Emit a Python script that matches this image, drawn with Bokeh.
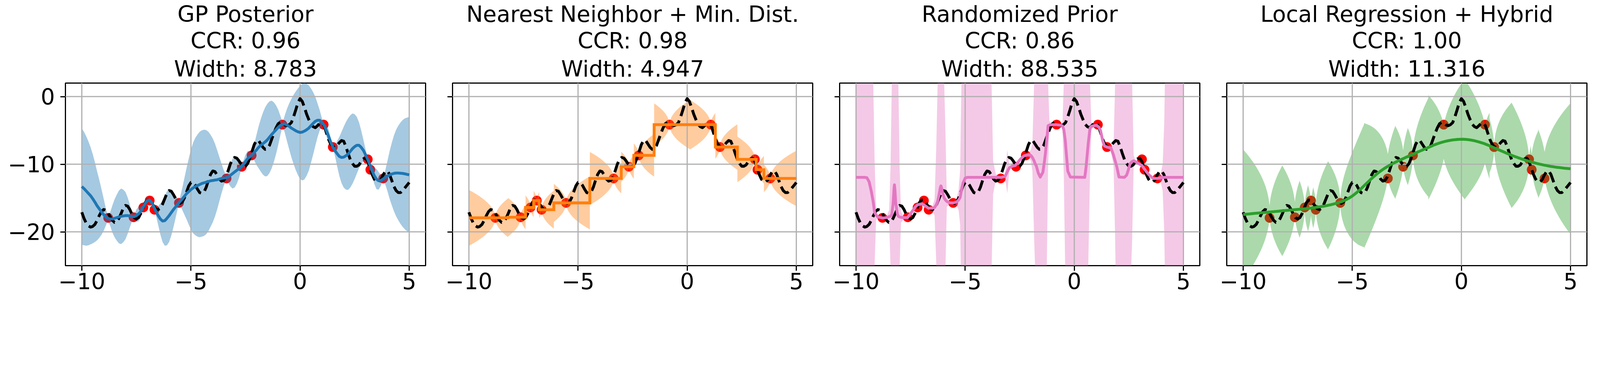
import numpy as np
from bokeh.plotting import figure
from bokeh.models import Range1d, FixedTicker, Title
from bokeh.layouts import row
from bokeh.embed import file_html
from bokeh.resources import INLINE

# ---------------- data ----------------
X_MIN, X_MAX = -10.0, 5.0
grid_x = np.round(np.linspace(X_MIN, X_MAX, 151), 2)   # sampling grid, step 0.1

# true function (black dashed), on grid_x
true_y = [
    -17.1, -18.0, -18.7, -19.1, -19.3, -19.2, -18.9, -18.3, -17.6, -17.0,
    -16.7, -16.8, -17.2, -17.8, -18.3, -18.6, -18.5, -18.0, -17.3, -16.5,
    -16.1, -16.2, -16.7, -17.4, -17.9, -18.1, -17.9, -17.3, -16.5, -15.7,
    -15.3, -15.3, -15.7, -16.2, -16.6, -16.7, -16.5, -15.9, -15.1, -14.3,
    -13.9, -14.0, -14.5, -15.1, -15.6, -15.8, -15.6, -15.0, -14.1, -13.2,
    -12.7, -12.7, -13.1, -13.7, -14.2, -14.3, -14.1, -13.4, -12.4, -11.5,
    -11.0, -11.1, -11.6, -12.2, -12.5, -12.4, -11.9, -11.0, -10.0, -9.3,
    -9.0, -9.1, -9.5, -10.0, -10.3, -10.3, -9.9, -9.1, -8.1, -7.1,
    -6.5, -6.5, -7.0, -7.5, -7.8, -7.7, -7.2, -6.3, -5.4, -4.6,
    -4.0, -3.8, -3.9, -4.2, -4.3, -4.15, -3.85, -3.0, -2.0, -0.9,
    -0.3, -0.7, -1.6, -2.6, -3.4, -4.1, -4.45, -4.6, -4.3, -3.95,
    -3.9, -4.3, -5.3, -6.3, -7.0, -7.4, -7.5, -7.2, -6.8, -6.5,
    -6.6, -7.4, -8.4, -9.3, -9.9, -10.3, -10.3, -10.1, -9.6, -9.2,
    -9.1, -9.6, -10.6, -11.5, -12.2, -12.6, -12.6, -12.3, -11.6, -11.1,
    -11.0, -11.5, -12.4, -13.3, -13.9, -14.2, -14.2, -13.9, -13.5, -13.1,
    -12.7]

# observations (red points)
obs_x = [-8.79, -7.63, -7.18, -6.89, -6.67, -5.55, -3.37, -2.67, -2.22,
         -0.81, 1.08, 1.50, 3.10, 3.22, 3.81]
obs_y = [-17.93, -17.84, -16.40, -15.37, -16.73, -15.72, -12.10, -10.37, -8.69,
         -4.15, -4.15, -7.46, -9.28, -10.81, -12.10]

# GP posterior mean and band half-width, on grid_x
gp_mean = [
    -13.3, -13.6, -13.95, -14.3, -14.65, -15.1, -15.6, -16.15, -16.6, -17.05,
    -17.45, -17.8, -18.0, -18.1, -18.1, -18.0, -17.9, -17.8, -17.7, -17.65,
    -17.6, -17.6, -17.65, -17.75, -17.75, -17.6, -17.35, -17.0, -16.4, -15.8,
    -15.35, -15.3, -15.7, -16.3, -17.0, -17.6, -18.1, -18.4, -18.35, -18.0,
    -17.6, -17.15, -16.7, -16.3, -15.9, -15.5, -15.15, -14.75, -14.35, -14.05,
    -13.75, -13.5, -13.3, -13.15, -13.0, -12.85, -12.75, -12.65, -12.55, -12.45,
    -12.4, -12.35, -12.3, -12.2, -12.1, -12.05, -12.0, -11.9, -11.65, -11.4,
    -11.15, -10.9, -10.65, -10.35, -10.0, -9.6, -9.15, -8.9, -8.65, -8.25,
    -7.9, -7.5, -7.2, -6.95, -6.7, -6.4, -6.0, -5.6, -5.25, -4.9,
    -4.55, -4.25, -4.08, -4.05, -4.2, -4.4, -4.65, -4.85, -5.05, -5.2,
    -5.3, -5.25, -5.1, -4.9, -4.65, -4.3, -3.95, -3.65, -3.5, -3.5,
    -3.8, -4.2, -5.0, -5.8, -6.7, -7.45, -8.0, -8.45, -8.85, -9.0,
    -8.95, -8.75, -8.5, -8.1, -7.7, -7.4, -7.2, -7.2, -7.5, -7.95,
    -8.6, -9.3, -10.1, -10.95, -11.7, -12.2, -12.45, -12.4, -12.2, -11.95,
    -11.75, -11.6, -11.45, -11.35, -11.3, -11.3, -11.33, -11.36, -11.42, -11.5,
    -11.57]
gp_halfwidth = [
    8.6, 8.4, 8.1, 7.7, 7.2, 6.6, 5.9, 5.1, 4.3, 3.4,
    2.4, 1.3, 0.3, 1.0, 2.0, 2.8, 3.4, 3.9, 4.1, 3.9,
    3.5, 2.7, 1.7, 0.7, 0.3, 0.9, 1.1, 0.8, 0.2, 0.5,
    0.4, 0.15, 0.35, 0.15, 0.6, 1.4, 2.3, 3.1, 3.7, 4.0,
    3.9, 3.4, 2.6, 1.6, 0.6, 0.6, 1.6, 2.7, 3.8, 4.9,
    5.9, 6.7, 7.2, 7.55, 7.8, 7.85, 7.85, 7.7, 7.35, 6.8,
    6.2, 5.4, 4.4, 3.3, 2.2, 1.2, 0.4, 0.8, 1.6, 2.2,
    2.3, 2.0, 1.4, 0.5, 0.5, 1.0, 1.1, 0.7, 0.2, 1.2,
    2.2, 3.1, 3.9, 4.6, 5.1, 5.35, 5.3, 5.0, 4.4, 3.6,
    2.6, 1.4, 0.2, 1.3, 2.4, 3.4, 4.3, 5.1, 5.8, 6.4,
    6.9, 7.15, 7.15, 6.8, 6.3, 5.5, 4.6, 3.6, 2.5, 1.5,
    0.6, 0.2, 0.8, 1.0, 0.6, 0.1, 0.8, 1.9, 2.9, 3.8,
    4.5, 5.0, 5.3, 5.35, 5.2, 4.8, 4.2, 3.4, 2.5, 1.6,
    0.8, 0.1, 0.2, 0.7, 1.2, 1.5, 1.3, 0.8, 0.15, 1.0,
    2.2, 3.5, 4.6, 5.6, 6.4, 7.0, 7.5, 7.9, 8.2, 8.4,
    8.55]

# nearest neighbour: band half-width = nn_scale * sqrt(distance to nearest point)
nn_scale = 3.75

# randomized prior: mean and half-width at irregular x
pink_x = [
    -10.0, -9.6, -9.5, -9.4, -9.3, -9.21, -9.15, -9.08, -9.0, -8.79,
    -8.6, -8.48, -8.42, -8.36, -8.3, -8.26, -8.24, -8.22, -8.18, -8.1,
    -8.06, -8.0, -7.94, -7.8, -7.64, -7.5, -7.28, -7.18, -6.98, -6.85,
    -6.68, -6.5, -6.4, -6.32, -6.26, -6.2, -6.14, -6.11, -6.08, -6.02,
    -5.96, -5.9, -5.84, -5.72, -5.55, -5.4, -5.3, -5.23, -5.2, -5.17,
    -5.1, -5.0, -4.9, -3.86, -3.79, -3.72, -3.6, -3.37, -3.17, -3.07,
    -2.97, -2.85, -2.71, -2.6, -2.47, -2.3, -2.1, -1.99, -1.92, -1.84,
    -1.8, -1.74, -1.65, -1.56, -1.44, -1.36, -1.32, -1.26, -1.2, -1.14,
    -1.0, -0.81, -0.6, -0.54, -0.48, -0.42, -0.36, -0.3, -0.18, 0.48,
    0.54, 0.6, 0.64, 0.72, 0.78, 0.9, 1.02, 1.12, 1.2, 1.3,
    1.38, 1.5, 1.68, 1.8, 1.87, 1.89, 1.95, 2.05, 2.3, 2.4,
    2.47, 2.55, 2.61, 2.65, 2.72, 2.8, 2.95, 3.1, 3.19, 3.3,
    3.43, 3.61, 3.81, 3.95, 4.05, 4.12, 4.15, 4.2, 5.0]
pink_mean = [
    -11.94, -11.94, -12.0, -12.6, -14.0, -15.6, -17.1, -17.5, -17.8, -17.95,
    -17.9, -17.75, -17.7, -17.4, -15.8, -13.7, -13.05, -13.7, -15.8, -17.4,
    -17.7, -17.8, -17.85, -17.9, -17.9, -17.3, -16.3, -16.0, -15.85, -16.1,
    -16.5, -16.5, -16.4, -16.0, -15.5, -14.6, -13.5, -13.2, -13.5, -14.4,
    -15.0, -15.3, -15.5, -15.7, -15.72, -15.6, -15.3, -14.9, -14.4, -13.8,
    -12.8, -12.06, -11.94, -11.94, -11.94, -11.94, -11.94, -11.96, -11.8, -11.1,
    -10.5, -10.3, -10.2, -9.8, -9.26, -8.75, -8.6, -8.7, -9.0, -9.5,
    -9.9, -10.25, -11.3, -11.9, -11.2, -9.4, -8.3, -6.3, -4.3, -4.2,
    -4.15, -4.15, -4.25, -4.35, -4.9, -6.3, -8.6, -11.0, -11.9, -11.94,
    -10.4, -8.3, -6.9, -4.65, -4.4, -4.3, -4.25, -4.5, -5.0, -6.5,
    -7.3, -7.46, -7.6, -8.7, -9.5, -9.7, -10.4, -11.9, -11.94, -11.6,
    -10.9, -10.0, -9.7, -9.6, -9.5, -9.6, -9.9, -10.2, -10.6, -11.1,
    -11.6, -12.1, -12.1, -12.0, -11.96, -11.95, -11.94, -11.94, -11.94]
pink_halfwidth = [
    40, 40, 40, 40, 30, 17.6, 7.9, 0.8, 0.2, 0.05,
    0.2, 1.0, 7.3, 19.4, 40, 40, 40, 40, 40, 40,
    19.7, 7.2, 0.8, 0.2, 0.05, 0.3, 0.2, 0.05, 0.2, 0.1,
    0.05, 0.3, 1.2, 9.0, 17.5, 40, 40, 40, 40, 40,
    17.0, 9.7, 0.8, 0.2, 0.05, 0.4, 1.5, 4.0, 10.6, 15.8,
    40, 40, 40, 40, 13.9, 2.5, 0.5, 0.05, 0.3, 3.2,
    0.3, 0.2, 0.05, 0.1, 0.1, 0.05, 0.3, 0.8, 2.0, 11.5,
    15.1, 40, 40, 40, 40, 40, 40, 18.7, 6.3, 0.6,
    0.1, 0.05, 0.2, 0.6, 6.9, 18.7, 40, 40, 40, 40,
    40, 40, 18.1, 6.65, 0.6, 0.1, 0.05, 0.1, 0.2, 0.2,
    0.1, 0.05, 0.5, 1.5, 11.5, 15.3, 40, 40, 40, 40,
    40, 40, 15.3, 11.6, 0.8, 0.2, 0.1, 0.05, 0.05, 0.1,
    0.2, 0.1, 0.05, 0.5, 2.0, 8.0, 14.0, 40, 40]

# local regression mean, on grid_x
lr_mean = [
    -17.43, -17.40, -17.37, -17.34, -17.31, -17.28, -17.25, -17.22, -17.19, -17.16,
    -17.13, -17.10, -17.07, -17.04, -17.01, -16.98, -16.95, -16.92, -16.89, -16.86,
    -16.83, -16.80, -16.77, -16.74, -16.71, -16.68, -16.65, -16.62, -16.59, -16.56,
    -16.52, -16.48, -16.44, -16.40, -16.35, -16.30, -16.25, -16.20, -16.14, -16.07,
    -16.00, -15.92, -15.84, -15.75, -15.65, -15.55, -15.42, -15.27, -15.10, -14.91,
    -14.70, -14.46, -14.20, -13.92, -13.62, -13.31, -13.00, -12.69, -12.38, -12.08,
    -11.79, -11.51, -11.25, -11.01, -10.78, -10.57, -10.37, -10.18, -10.00, -9.83,
    -9.67, -9.52, -9.37, -9.22, -9.07, -8.92, -8.78, -8.63, -8.49, -8.35,
    -8.20, -8.06, -7.92, -7.78, -7.64, -7.50, -7.36, -7.22, -7.09, -6.97,
    -6.86, -6.76, -6.67, -6.59, -6.52, -6.46, -6.41, -6.37, -6.34, -6.32,
    -6.31, -6.31, -6.33, -6.36, -6.40, -6.46, -6.53, -6.61, -6.70, -6.80,
    -6.90, -7.02, -7.15, -7.29, -7.43, -7.57, -7.71, -7.85, -7.99, -8.13,
    -8.27, -8.41, -8.55, -8.68, -8.80, -8.92, -9.04, -9.15, -9.26, -9.37,
    -9.47, -9.57, -9.66, -9.75, -9.84, -9.92, -10.00, -10.07, -10.14, -10.20,
    -10.26, -10.32, -10.37, -10.42, -10.46, -10.50, -10.54, -10.58, -10.61, -10.64,
    -10.67]
# hybrid band: half-width = sqrt(residual^2 + lr_scale^2 * distance)
lr_scale = 8.7

title_lines = [
    ["GP Posterior", "CCR: 0.96", "Width: 8.783"],
    ["Nearest Neighbor + Min. Dist.", "CCR: 0.98", "Width: 4.947"],
    ["Randomized Prior", "CCR: 0.86", "Width: 88.535"],
    ["Local Regression + Hybrid", "CCR: 1.00", "Width: 11.316"],
]
x_ticks = [-10, -5, 0, 5]
y_ticks = [-20, -10, 0]
X_LIM = (-10.75, 5.75)
Y_LIM = (-25.0, 2.0)

for arr in (true_y, gp_mean, gp_halfwidth, lr_mean):
    assert len(arr) == len(grid_x), len(arr)
assert len(pink_x) == len(pink_mean) == len(pink_halfwidth)

C_BLUE, C_ORANGE, C_PINK, C_GREEN = "#1f77b4", "#ff7f0e", "#e377c2", "#2ca02c"
FONT = "DejaVu Sans"
FS = "57px"
LW = 7.3
BAND_ALPHA = 0.4

# layout (CSS px)
FRAME_W, FRAME_H = 922, 467
BORDER_TOP, BORDER_BOTTOM = 212, 130


def minus(v):
    return ("\u2212" + str(abs(v))) if v < 0 else str(v)


def make_fig(idx, left_border, right_border, show_ylabels):
    p = figure(width=left_border + FRAME_W + right_border,
               height=BORDER_TOP + FRAME_H + BORDER_BOTTOM,
               x_range=Range1d(*X_LIM), y_range=Range1d(*Y_LIM),
               output_backend="svg", toolbar_location=None,
               min_border_left=left_border, min_border_right=right_border,
               min_border_top=BORDER_TOP, min_border_bottom=BORDER_BOTTOM,
               title=None)
    # stacked title lines: the first added sits nearest the frame
    for k, txt in enumerate(reversed(title_lines[idx])):
        t = Title(text=txt, align="center", text_font=FONT, text_font_size=FS,
                  text_font_style="normal", text_color="black",
                  standoff=(8 if k == 0 else 0), offset=0)
        p.add_layout(t, "above")
    p.background_fill_color = "white"
    p.border_fill_color = "white"
    p.outline_line_color = "black"
    p.outline_line_width = 3.0
    p.outline_line_alpha = 1.0
    p.grid.visible = False

    p.xaxis.ticker = FixedTicker(ticks=x_ticks)
    p.yaxis.ticker = FixedTicker(ticks=y_ticks)
    p.xaxis.major_label_overrides = {t: minus(t) for t in x_ticks}
    if show_ylabels:
        p.yaxis.major_label_overrides = {t: minus(t) for t in y_ticks}
    else:
        p.yaxis.major_label_overrides = {t: "" for t in y_ticks}
    for ax in (p.xaxis[0], p.yaxis[0]):
        ax.axis_line_color = None
        ax.major_tick_line_color = "black"
        ax.major_tick_line_width = 3.0
        ax.major_tick_in = 0
        ax.major_tick_out = 13
        ax.minor_tick_line_color = None
        ax.major_label_text_font = FONT
        ax.major_label_text_font_size = FS
        ax.major_label_text_color = "black"
    p.xaxis.major_label_standoff = 5
    p.yaxis.major_label_standoff = 14
    return p


def add_grid(p):
    n = len(x_ticks)
    p.segment(x0=x_ticks, y0=[Y_LIM[0]] * n, x1=x_ticks, y1=[Y_LIM[1]] * n,
              line_color="#b0b0b0", line_width=3.0)
    m = len(y_ticks)
    p.segment(x0=[X_LIM[0]] * m, y0=y_ticks, x1=[X_LIM[1]] * m, y1=y_ticks,
              line_color="#b0b0b0", line_width=3.0)


def add_points(p):
    p.scatter(x=obs_x, y=obs_y, size=25, fill_color="red", line_color=None)


def add_truth(p):
    p.line(x=grid_x, y=true_y, line_color="black", line_width=LW,
           line_dash="28 12", line_join="round")


ox = np.array(obs_x)
oy = np.array(obs_y)
mids = (ox[1:] + ox[:-1]) / 2.0
cell_left = np.concatenate([[X_MIN], mids])
cell_right = np.concatenate([mids, [X_MAX]])
s = np.linspace(0.0, 1.0, 40)


def cell_x(i):
    xl = ox[i] - (ox[i] - cell_left[i]) * (s[::-1] ** 2)
    xr = ox[i] + (cell_right[i] - ox[i]) * (s[1:] ** 2)
    return np.concatenate([xl, xr])


# ---------- panel 1: GP ----------
p1 = make_fig(0, 167, 20, True)
add_points(p1)
gm = np.array(gp_mean)
gh = np.array(gp_halfwidth)
p1.varea(x=grid_x, y1=gm - gh, y2=gm + gh, fill_color=C_BLUE, fill_alpha=BAND_ALPHA)
add_grid(p1)
add_truth(p1)
p1.line(x=grid_x, y=gp_mean, line_color=C_BLUE, line_width=LW, line_join="round")

# ---------- panel 2: nearest neighbour ----------
p2 = make_fig(1, 49, 20, False)
add_points(p2)
bx, blo, bhi = [], [], []
for i in range(len(ox)):
    xs = cell_x(i)
    hw = nn_scale * np.sqrt(np.abs(xs - ox[i]))
    bx.append(xs); blo.append(oy[i] - hw); bhi.append(oy[i] + hw)
p2.varea(x=np.concatenate(bx), y1=np.concatenate(blo), y2=np.concatenate(bhi),
         fill_color=C_ORANGE, fill_alpha=BAND_ALPHA)
add_grid(p2)
add_truth(p2)
step_x = np.ravel(np.column_stack([cell_left, cell_right]))
step_y = np.repeat(oy, 2)
p2.line(x=step_x, y=step_y, line_color=C_ORANGE, line_width=LW, line_join="miter")

# ---------- panel 3: randomized prior ----------
p3 = make_fig(2, 49, 20, False)
add_points(p3)
pm = np.array(pink_mean)
ph = np.array(pink_halfwidth)
p3.varea(x=pink_x, y1=pm - ph, y2=pm + ph, fill_color=C_PINK, fill_alpha=BAND_ALPHA)
add_grid(p3)
add_truth(p3)
p3.line(x=pink_x, y=pink_mean, line_color=C_PINK, line_width=LW, line_join="round")

# ---------- panel 4: local regression + hybrid ----------
p4 = make_fig(3, 49, 10, False)
add_points(p4)
lm = np.array(lr_mean)
bx, blo, bhi = [], [], []
for i in range(len(ox)):
    xs = cell_x(i)
    mu = np.interp(xs, grid_x, lm)
    r = oy[i] - np.interp(ox[i], grid_x, lm)
    hw = np.sqrt(r ** 2 + lr_scale ** 2 * np.abs(xs - ox[i]))
    bx.append(xs); blo.append(mu - hw); bhi.append(mu + hw)
p4.varea(x=np.concatenate(bx), y1=np.concatenate(blo), y2=np.concatenate(bhi),
         fill_color=C_GREEN, fill_alpha=BAND_ALPHA)
add_grid(p4)
add_truth(p4)
p4.line(x=grid_x, y=lr_mean, line_color=C_GREEN, line_width=LW, line_join="round")

layout = row(p1, p2, p3, p4)
open("out.html", "w").write(file_html(layout, INLINE))
